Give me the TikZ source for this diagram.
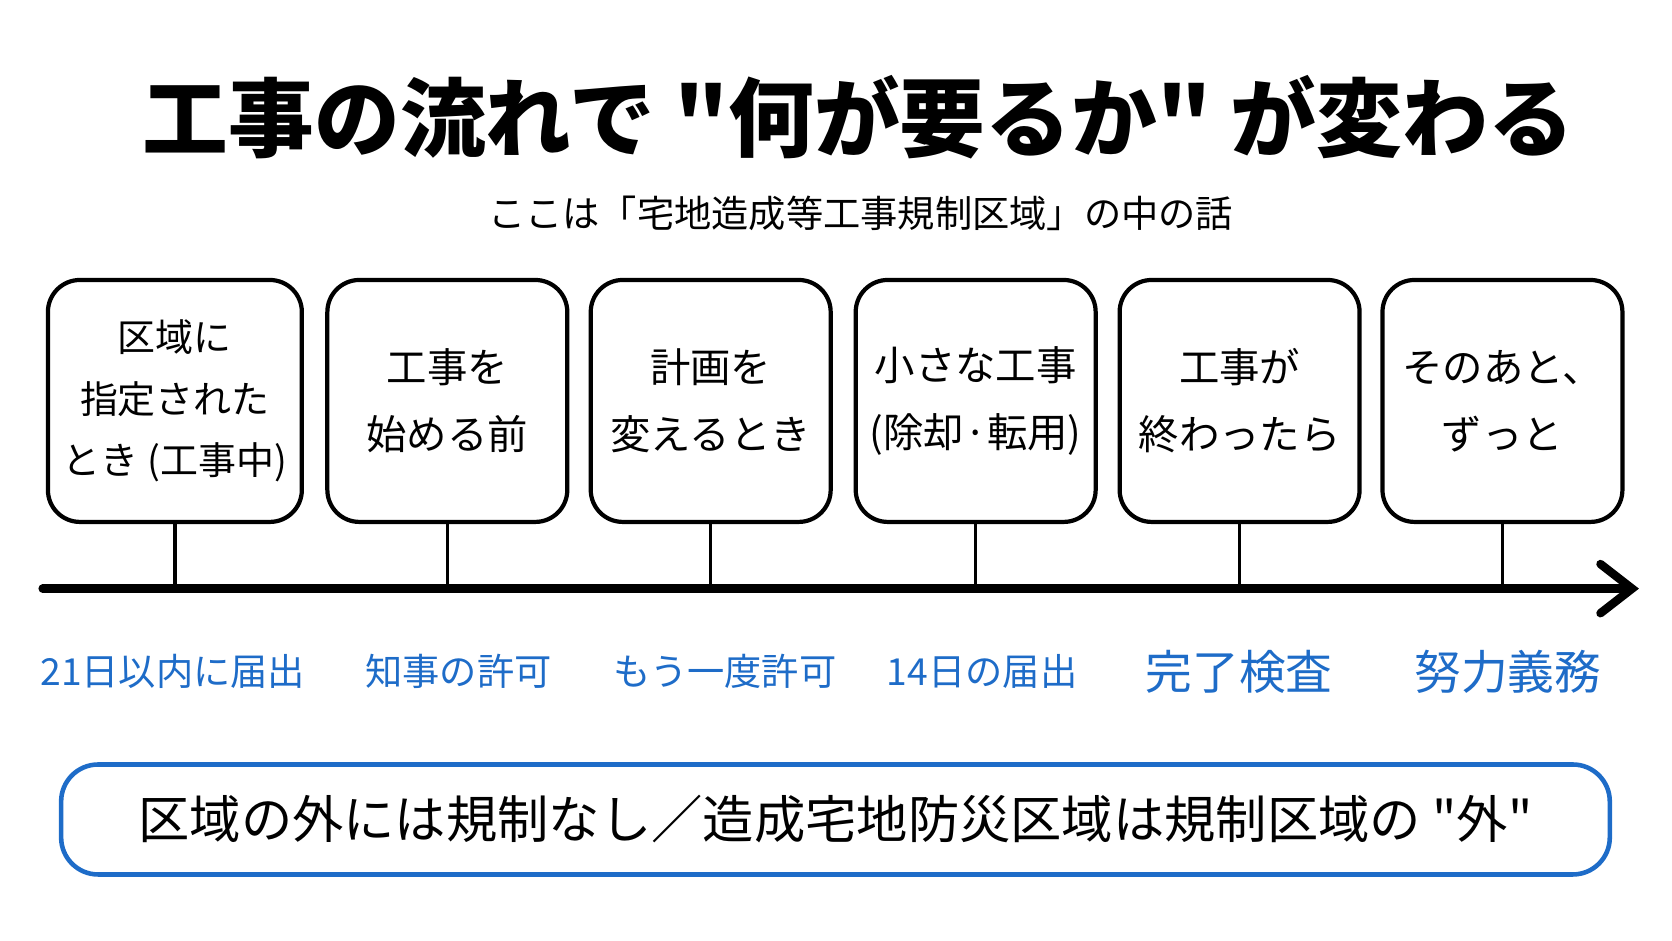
\documentclass[tikz,border=0pt]{standalone}
\usepackage{fontspec}
\newfontfamily\jp{Noto Sans CJK JP}
\usetikzlibrary{arrows.meta}
\definecolor{inkblue}{RGB}{30,108,200}

\begin{document}
\jp
\begin{tikzpicture}[x=0.010663cm, y=-0.010663cm,
    stagebox/.style={draw, line width=1.2pt, rounded corners=0.32cm,
      minimum width=2.40cm, minimum height=2.42cm, align=center, inner sep=2pt,
      font=\fontsize{11.5}{19}\selectfont},
    reqlabel/.style={text=inkblue, font=\fontsize{10.6}{12}\selectfont},
    reqbig/.style={text=inkblue, font=\fontsize{13.3}{15}\selectfont},
    stem/.style={line width=1pt}]
    \useasboundingbox (0,0) rectangle (1568,882);
    % title and subtitle
    \node[font=\fontsize{24.4}{28}\selectfont\bfseries] (title) at (805,110) {工事の流れで "何が要るか" が変わる};
    \node[font=\fontsize{10.6}{12}\selectfont] (subtitle) at (807,200) {ここは「宅地造成等工事規制区域」の中の話};
    % stages
    \def\ys{376}
    \node[stagebox, minimum width=2.54cm, font=\fontsize{10.8}{17.6}\selectfont] (s1) at (164,\ys) {区域に\\指定された\\とき (工事中)};
    \node[stagebox] (s2) at (419.5,\ys) {工事を\\始める前};
    \node[stagebox] (s3) at (666.5,\ys) {計画を\\変えるとき};
    \node[stagebox] (s4) at (915,\ys) {小さな工事\\(除却·転用)};
    \node[stagebox] (s5) at (1162.5,\ys) {工事が\\終わったら};
    \node[stagebox] (s6) at (1409,\ys) {そのあと、\\ずっと};
    % time axis
    \coordinate (axisL) at (40,552);
    \coordinate (axisR) at (1537,552);
    \draw[line width=2.4pt, line cap=round, -{Straight Barb[length=9pt, width=14pt, line cap=round]}] (axisL) -- (axisR);
    \draw[stem] (s1.south) -- (s1.south |- axisL);
    \draw[stem] (s2.south) -- (s2.south |- axisL);
    \draw[stem] (s3.south) -- (s3.south |- axisL);
    \draw[stem] (s4.south) -- (s4.south |- axisL);
    \draw[stem] (s5.south) -- (s5.south |- axisL);
    \draw[stem] (s6.south) -- (s6.south |- axisL);
    % what is needed
    \def\yr{630}
    \node[reqlabel] (r1) at (162,\yr) {21日以内に届出};
    \node[reqlabel] (r2) at (430,\yr) {知事の許可};
    \node[reqlabel] (r3) at (680,\yr) {もう一度許可};
    \node[reqlabel] (r4) at (921,\yr) {14日の届出};
    \node[reqbig] (r5) at (1162,\yr) {完了検査};
    \node[reqbig] (r6) at (1414,\yr) {努力義務};
    % note
    \node[draw=inkblue, line width=1.3pt, rounded corners=0.37cm, minimum width=15.49cm,
      minimum height=1.10cm, font=\fontsize{14.6}{16}\selectfont] (note) at (783.5,768.5)
      {区域の外には規制なし／造成宅地防災区域は規制区域の "外"};
\end{tikzpicture}
\end{document}
